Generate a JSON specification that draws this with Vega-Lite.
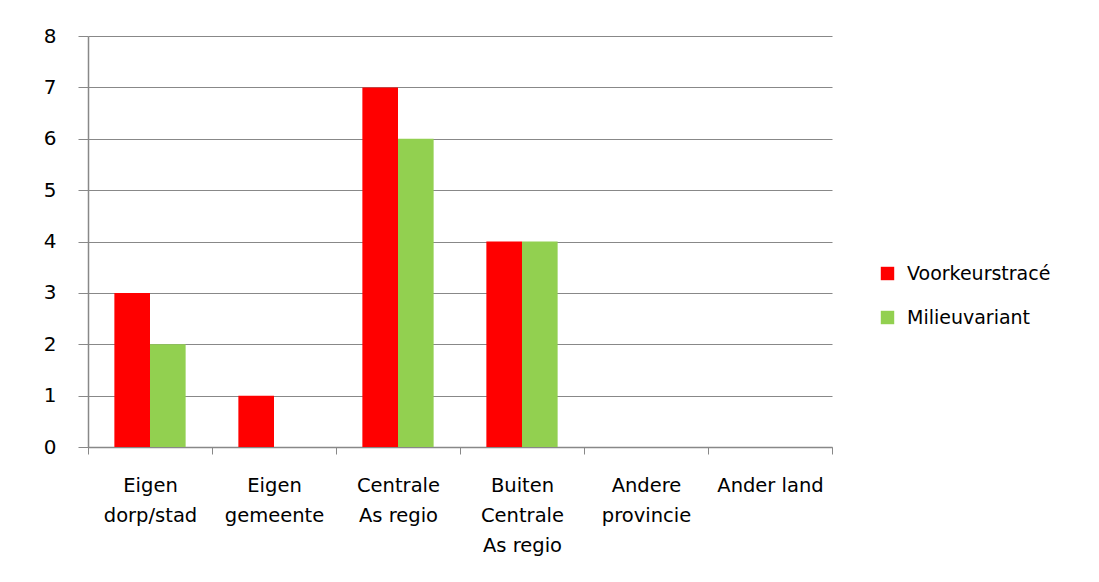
{
  "$schema": "https://vega.github.io/schema/vega-lite/v6.json",
  "width": 744,
  "height": 411,
  "autosize": {"type": "none"},
  "padding": {"left": 88, "top": 36, "right": 267, "bottom": 135},
  "background": "white",
  "config": {
    "view": {"stroke": null},
    "font": "DejaVu Sans"
  },
  "data": {
    "values": [
      {"categorie": "Eigen|dorp/stad", "reeks": "Voorkeurstracé", "aantal": 3},
      {"categorie": "Eigen|dorp/stad", "reeks": "Milieuvariant", "aantal": 2},
      {"categorie": "Eigen|gemeente", "reeks": "Voorkeurstracé", "aantal": 1},
      {"categorie": "Eigen|gemeente", "reeks": "Milieuvariant", "aantal": 0},
      {"categorie": "Centrale|As regio", "reeks": "Voorkeurstracé", "aantal": 7},
      {"categorie": "Centrale|As regio", "reeks": "Milieuvariant", "aantal": 6},
      {"categorie": "Buiten|Centrale|As regio", "reeks": "Voorkeurstracé", "aantal": 4},
      {"categorie": "Buiten|Centrale|As regio", "reeks": "Milieuvariant", "aantal": 4},
      {"categorie": "Andere|provincie", "reeks": "Voorkeurstracé", "aantal": 0},
      {"categorie": "Andere|provincie", "reeks": "Milieuvariant", "aantal": 0},
      {"categorie": "Ander land", "reeks": "Voorkeurstracé", "aantal": 0},
      {"categorie": "Ander land", "reeks": "Milieuvariant", "aantal": 0}
    ]
  },
  "mark": {"type": "bar"},
  "encoding": {
    "x": {
      "field": "categorie",
      "type": "nominal",
      "sort": null,
      "scale": {"paddingInner": 0, "paddingOuter": 0},
      "axis": {
        "title": null,
        "labelAngle": 0,
        "labelExpr": "split(datum.label, '|')",
        "labelFontSize": 19.5,
        "labelColor": "#000000",
        "labelLineHeight": 30,
        "labelPadding": 22,
        "labelBaseline": "top",
        "tickBand": "extent",
        "tickSize": 7,
        "tickColor": "#888888",
        "domainColor": "#888888",
        "domainWidth": 1.5,
        "grid": false
      }
    },
    "xOffset": {
      "field": "reeks",
      "type": "nominal",
      "sort": ["Voorkeurstracé", "Milieuvariant"],
      "scale": {"paddingInner": 0, "paddingOuter": 0.74}
    },
    "y": {
      "field": "aantal",
      "type": "quantitative",
      "scale": {"domain": [0, 8], "nice": false},
      "axis": {
        "title": null,
        "values": [0, 1, 2, 3, 4, 5, 6, 7, 8],
        "labelOverlap": false,
        "labelFontSize": 20,
        "labelColor": "#000000",
        "labelPadding": 22,
        "tickSize": 10,
        "tickColor": "#888888",
        "domainColor": "#888888",
        "domainWidth": 1.5,
        "gridColor": "#888888",
        "gridWidth": 1.2
      }
    },
    "color": {
      "field": "reeks",
      "type": "nominal",
      "sort": ["Voorkeurstracé", "Milieuvariant"],
      "scale": {"domain": ["Voorkeurstracé", "Milieuvariant"], "range": ["#FF0000", "#92D050"]},
      "legend": {
        "title": null,
        "orient": "none",
        "legendX": 790,
        "legendY": 228,
        "symbolType": "square",
        "symbolSize": 180,
        "symbolStrokeWidth": 0,
        "labelFontSize": 19,
        "labelColor": "#000000",
        "rowPadding": 24,
        "labelOffset": 10
      }
    }
  }
}
